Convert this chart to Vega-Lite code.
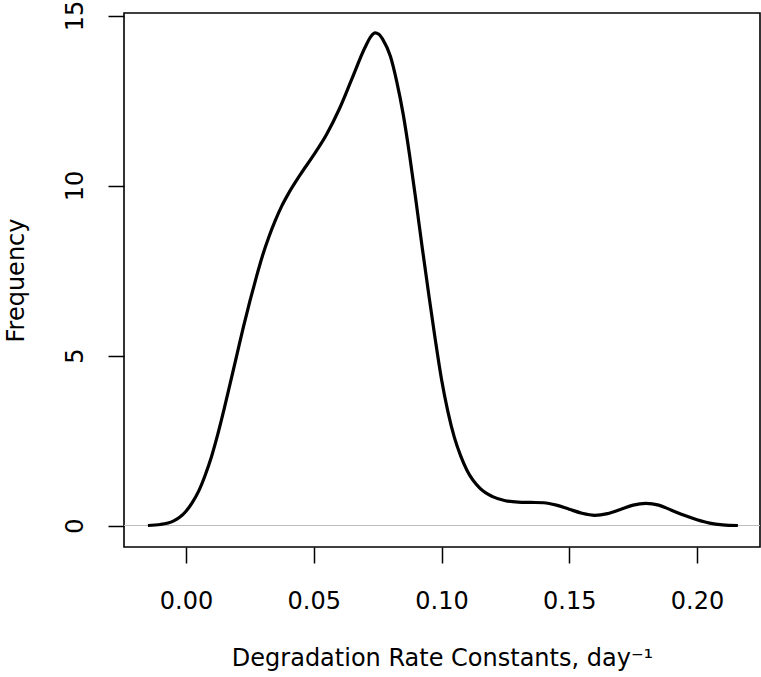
{
  "$schema": "https://vega.github.io/schema/vega-lite/v6.json",
  "width": 636,
  "height": 534,
  "autosize": {"type": "none"},
  "padding": {"left": 124, "top": 13, "right": 1, "bottom": 130},
  "background": "white",
  "config": {
    "view": {"stroke": "black", "strokeWidth": 1.6},
    "font": "DejaVu Sans",
    "axis": {
      "grid": false,
      "domain": false,
      "tickColor": "black",
      "tickWidth": 1.5,
      "tickSize": 16,
      "labelColor": "black",
      "labelFontSize": 24,
      "labelFont": "DejaVu Sans",
      "titleColor": "black",
      "titleFontSize": 24,
      "titleFont": "DejaVu Sans",
      "titleFontWeight": "normal",
      "labelFlush": false,
      "labelOverlap": false
    }
  },
  "datasets": {
    "density": [
      {"x": -0.0149, "y": 0.0},
      {"x": -0.01, "y": 0.03},
      {"x": -0.005, "y": 0.13},
      {"x": -0.0025, "y": 0.24},
      {"x": 0.0, "y": 0.42},
      {"x": 0.0025, "y": 0.68},
      {"x": 0.005, "y": 1.02},
      {"x": 0.0075, "y": 1.48},
      {"x": 0.01, "y": 2.03},
      {"x": 0.0125, "y": 2.7},
      {"x": 0.015, "y": 3.45},
      {"x": 0.0175, "y": 4.25},
      {"x": 0.02, "y": 5.05},
      {"x": 0.0225, "y": 5.85},
      {"x": 0.025, "y": 6.6},
      {"x": 0.0275, "y": 7.3},
      {"x": 0.03, "y": 7.95},
      {"x": 0.0325, "y": 8.5},
      {"x": 0.035, "y": 8.98},
      {"x": 0.0375, "y": 9.4},
      {"x": 0.04, "y": 9.75},
      {"x": 0.045, "y": 10.35},
      {"x": 0.05, "y": 10.9},
      {"x": 0.055, "y": 11.5},
      {"x": 0.06, "y": 12.25},
      {"x": 0.065, "y": 13.15},
      {"x": 0.07, "y": 14.05},
      {"x": 0.0725, "y": 14.4},
      {"x": 0.074, "y": 14.49},
      {"x": 0.0755, "y": 14.45},
      {"x": 0.077, "y": 14.3},
      {"x": 0.08, "y": 13.8},
      {"x": 0.0825, "y": 13.05},
      {"x": 0.085, "y": 12.1},
      {"x": 0.0875, "y": 10.9},
      {"x": 0.09, "y": 9.55},
      {"x": 0.0925, "y": 8.15},
      {"x": 0.095, "y": 6.8},
      {"x": 0.0975, "y": 5.5},
      {"x": 0.1, "y": 4.3},
      {"x": 0.1025, "y": 3.35},
      {"x": 0.105, "y": 2.6},
      {"x": 0.1075, "y": 2.05},
      {"x": 0.11, "y": 1.62},
      {"x": 0.115, "y": 1.1},
      {"x": 0.12, "y": 0.85},
      {"x": 0.125, "y": 0.73},
      {"x": 0.13, "y": 0.69},
      {"x": 0.135, "y": 0.68},
      {"x": 0.14, "y": 0.67},
      {"x": 0.145, "y": 0.6},
      {"x": 0.15, "y": 0.48},
      {"x": 0.155, "y": 0.36},
      {"x": 0.16, "y": 0.3},
      {"x": 0.165, "y": 0.35},
      {"x": 0.17, "y": 0.47},
      {"x": 0.175, "y": 0.6},
      {"x": 0.18, "y": 0.65},
      {"x": 0.185, "y": 0.6},
      {"x": 0.19, "y": 0.45},
      {"x": 0.195, "y": 0.3},
      {"x": 0.2, "y": 0.17},
      {"x": 0.205, "y": 0.07},
      {"x": 0.21, "y": 0.02},
      {"x": 0.216, "y": 0.0}
    ],
    "zero": [{"y": 0}]
  },
  "layer": [
    {
      "data": {"name": "zero"},
      "mark": {"type": "rule", "color": "#bebebe", "strokeWidth": 1.2},
      "encoding": {
        "y": {"field": "y", "type": "quantitative"}
      }
    },
    {
      "data": {"name": "density"},
      "mark": {"type": "line", "color": "black", "strokeWidth": 3.2, "interpolate": "monotone", "strokeJoin": "round", "clip": true},
      "encoding": {
        "x": {
          "field": "x",
          "type": "quantitative",
          "scale": {"domain": [-0.02427, 0.22466], "nice": false, "zero": false},
          "axis": {
            "values": [0, 0.05, 0.1, 0.15, 0.2],
            "format": ".2f",
            "labelBaseline": "alphabetic",
            "labelAlign": "center",
            "labelPadding": 45,
            "title": "Degradation Rate Constants, day⁻¹",
            "titleBaseline": "alphabetic",
            "titleX": 318,
            "titleY": 118
          }
        },
        "y": {
          "field": "y",
          "type": "quantitative",
          "scale": {"domain": [-0.632, 15.074], "nice": false, "zero": false},
          "axis": {
            "values": [0, 5, 10, 15],
            "labelAngle": -90,
            "labelAlign": "center",
            "labelBaseline": "alphabetic",
            "labelPadding": 26,
            "title": "Frequency",
            "titleAngle": -90,
            "titleAlign": "center",
            "titleBaseline": "alphabetic",
            "titleX": -101,
            "titleY": 267
          }
        }
      }
    }
  ]
}
